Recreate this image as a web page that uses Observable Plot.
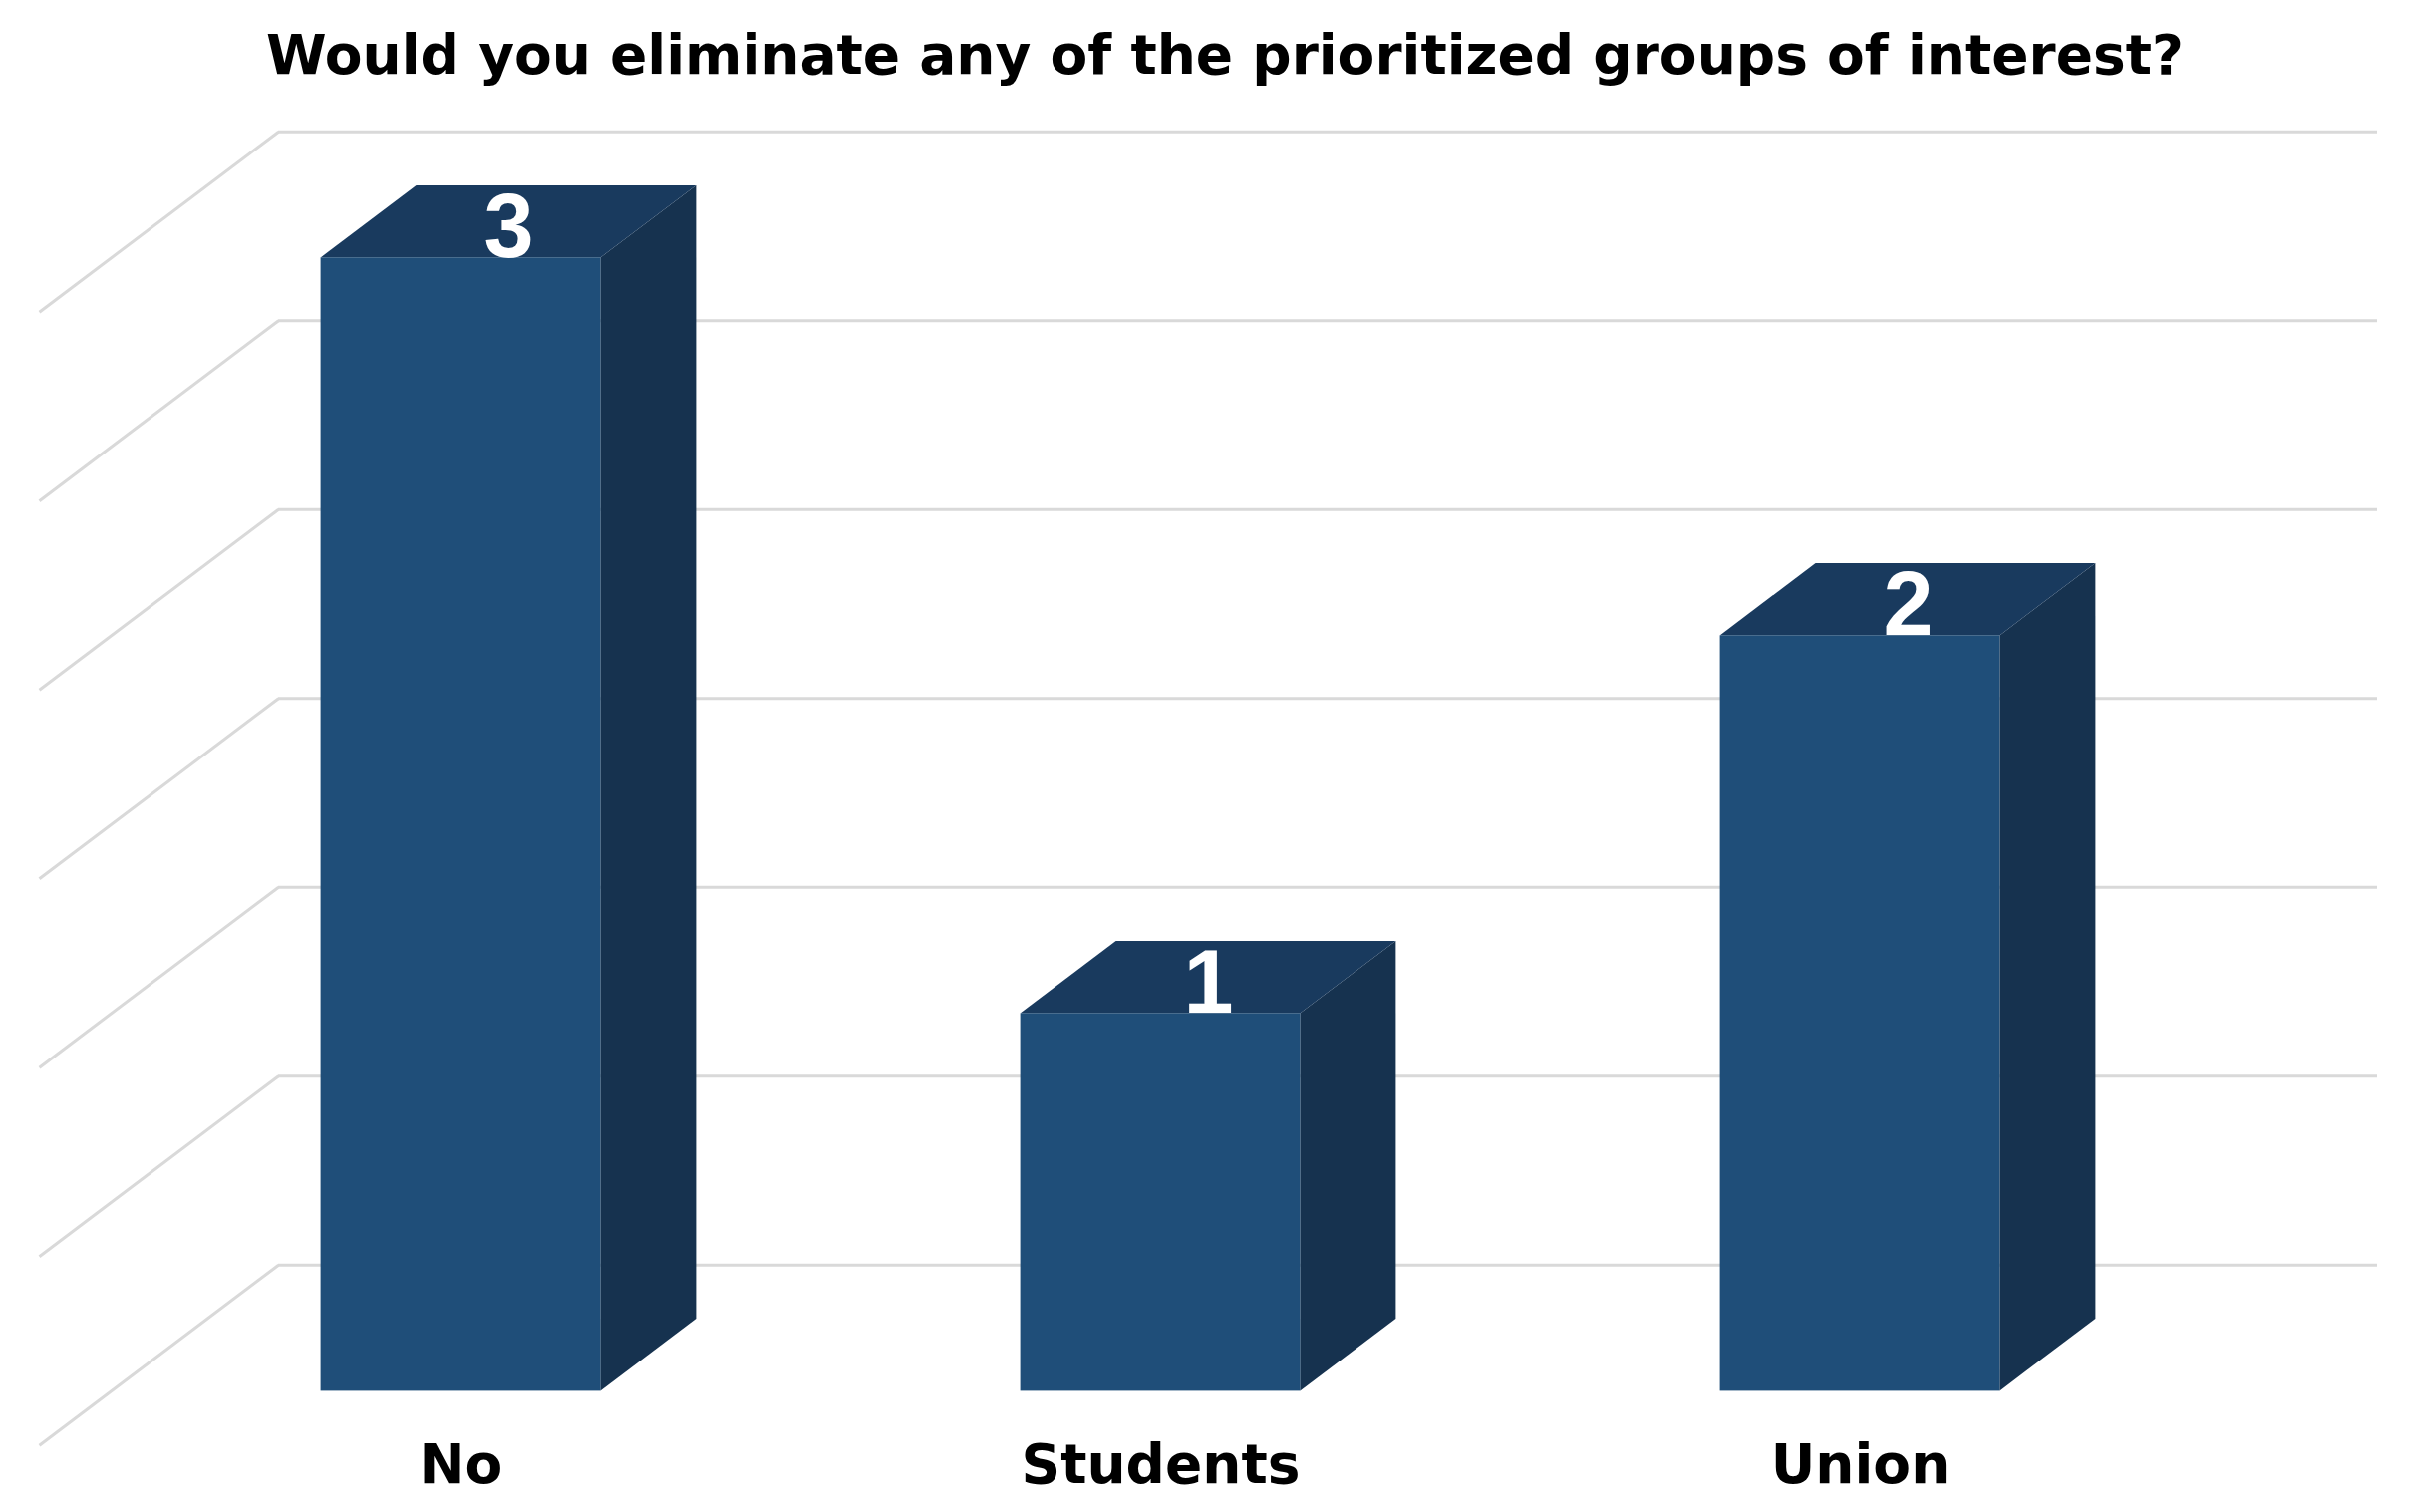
<!DOCTYPE html>
<html><head><meta charset="utf-8">
<script src="https://cdn.jsdelivr.net/npm/d3@7"></script>
<script src="https://cdn.jsdelivr.net/npm/@observablehq/plot@0.6"></script>
<style>
html,body{margin:0;padding:0;background:#fff;}
#title{height:110px;box-sizing:border-box;padding-top:28px;padding-left:39px;text-align:center;font:bold 55px/55px "DejaVu Sans",Verdana,sans-serif;color:#000;white-space:nowrap;}
</style></head><body>
<div id="title">Would you eliminate any of the prioritized groups of interest?</div>
<div id="chart"></div>
<script>
const categories = ["No", "Students", "Union"];
const counts = [3, 1, 2];
const gridValues = [0, 0.5, 1, 1.5, 2, 2.5, 3];

// oblique 3D projection: depth (0 = front, 1 = back wall) shifts x and y
const DX = 240 / 702;
const DY = 181 / 379;
const FRONT = 0.3, BACK = 0.7, LEFT = 0.3, RIGHT = 0.7;

const bars = categories.map((c, i) => ({category: c, index: i, value: counts[i]}));
const depthPts = bars.flatMap(b => [FRONT, BACK].map(d => ({...b, d})));

const chart = Plot.plot({
  width: 2419,
  height: 1407,
  margin: 0,
  x: {type: "linear", domain: [0, 3], range: [39, 2145], axis: null},
  y: {type: "linear", domain: [0, 3], range: [1339.7, 202.7], axis: null},
  style: {background: "#fff"},
  marks: [
    // back wall gridlines
    Plot.ruleY(gridValues, {y: v => v + DY, x1: () => DX, x2: () => 3 + DX, stroke: "#d9d9d9", strokeWidth: 3}),
    // left wall gridlines
    Plot.link(gridValues, {x1: () => DX, y1: v => v + DY, x2: () => 0, y2: v => v, stroke: "#d9d9d9", strokeWidth: 3}),
    // right side faces
    Plot.areaY(depthPts, {
      x: p => p.index + RIGHT + p.d * DX,
      y1: p => p.d * DY,
      y2: p => p.value + p.d * DY,
      z: "category", fill: "#16324f"
    }),
    // top faces
    Plot.areaX(depthPts, {
      y: p => p.value + p.d * DY,
      x1: p => p.index + LEFT + p.d * DX,
      x2: p => p.index + RIGHT + p.d * DX,
      z: "category", fill: "#193a5e"
    }),
    // front faces
    Plot.rect(bars, {
      x1: b => b.index + LEFT + FRONT * DX,
      x2: b => b.index + RIGHT + FRONT * DX,
      y1: () => FRONT * DY,
      y2: b => b.value + FRONT * DY,
      fill: "#1f4e79"
    }),
    // value labels on top faces
    Plot.text(bars, {
      x: b => b.index + 0.5 + 0.5 * DX,
      y: b => b.value + 0.5 * DY,
      text: b => String(b.value),
      fill: "white", fontSize: 90, fontWeight: "bold",
      fontFamily: "Liberation Sans, Arial, sans-serif",
      lineAnchor: "bottom", dy: 35
    }),
    // category labels
    Plot.text(bars, {
      x: b => b.index + 0.5 + FRONT * DX,
      y: () => 0,
      text: "category",
      fill: "black", fontSize: 55, fontWeight: "bold",
      fontFamily: "DejaVu Sans, Verdana, sans-serif",
      lineAnchor: "bottom", dy: 38
    })
  ]
});
document.getElementById("chart").appendChild(chart);
</script>
</body></html>
